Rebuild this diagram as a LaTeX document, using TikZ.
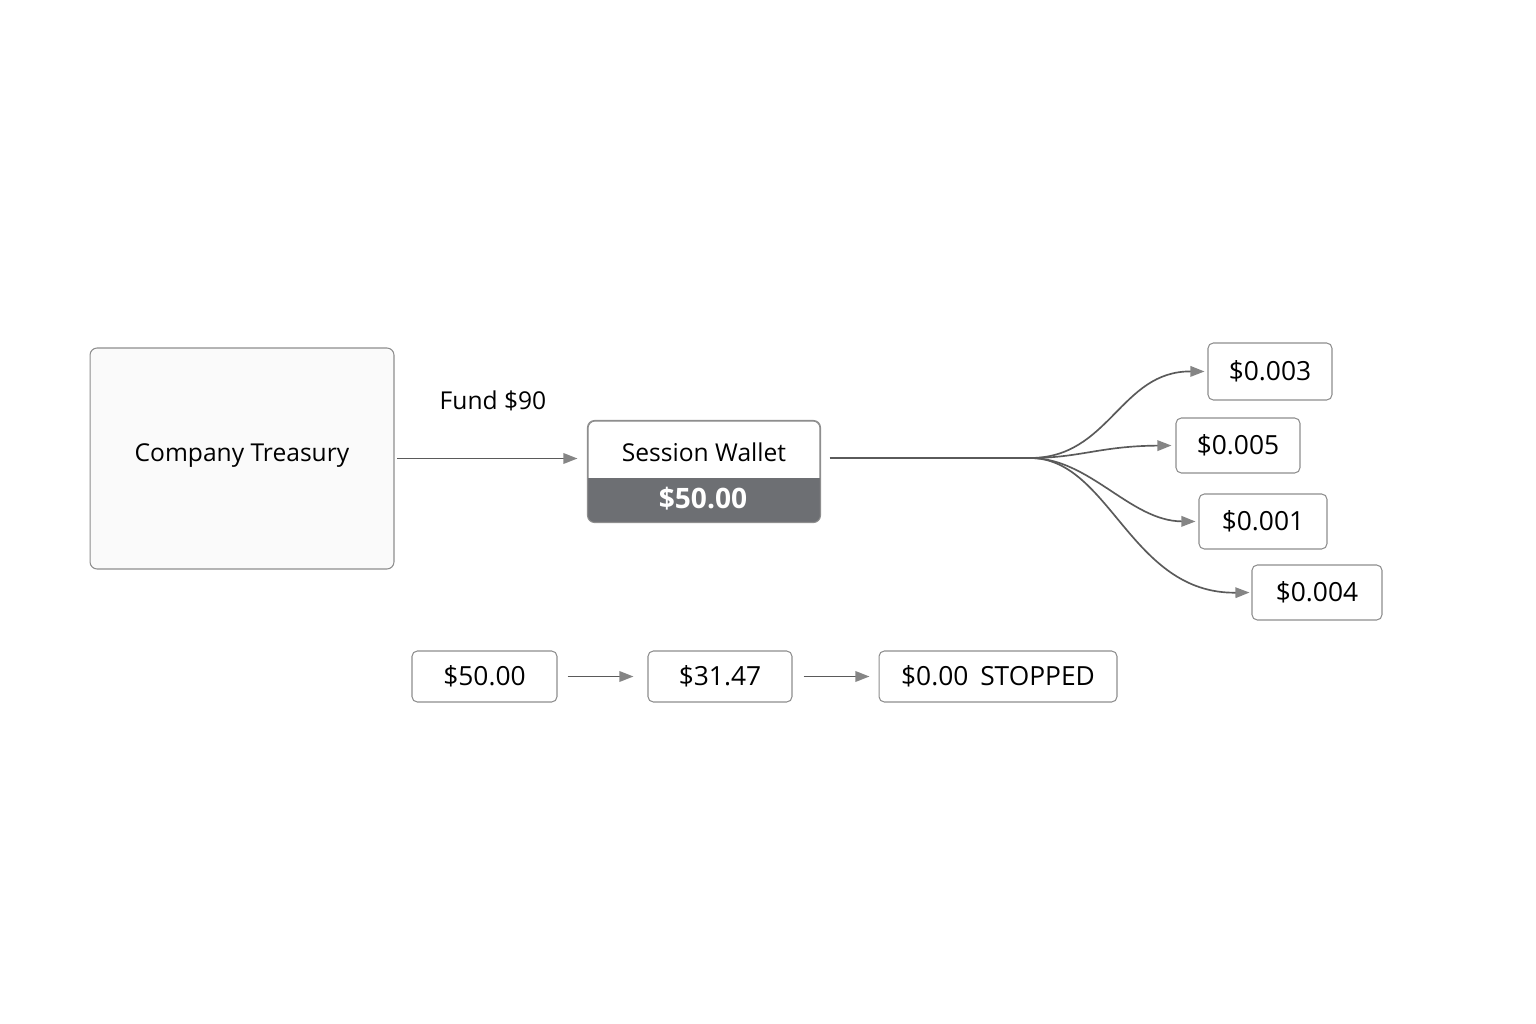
\documentclass[tikz,border=0pt]{standalone}
\usepackage{fontspec}
\setmainfont{Open Sans}
\usetikzlibrary{arrows.meta}
\definecolor{edge}{HTML}{8E8E8E}
\definecolor{wire}{HTML}{5A5A5A}
\definecolor{tipgray}{HTML}{858585}
\definecolor{slate}{HTML}{6D6F73}

\begin{document}
\begin{tikzpicture}[x=0.02cm, y=-0.02cm,
    box/.style={draw=edge, line width=0.6pt, rounded corners=3pt, fill=white, inner sep=0pt},
    val/.style={box, font=\fontsize{15}{18}\selectfont},
    lbl/.style={font=\fontsize{14}{17}\selectfont},
    flow/.style={draw=wire, line width=0.95pt, -{Triangle[length=8pt,width=6pt,color=tipgray]}}]
    \useasboundingbox (0,0) rectangle (1536,1024);

    \node[box, fill=black!2, rounded corners=4pt, minimum width=6.08cm, minimum height=4.42cm, text depth=6.8pt, lbl] (treasury) at (242,458.5) {Company Treasury};

    \node[box, rounded corners=4pt, minimum width=4.64cm, minimum height=2.02cm] (wallet) at (704,471.5) {};
    \begin{scope}
        \clip[rounded corners=4pt] (wallet.south west) rectangle (wallet.north east);
        \fill[slate] (wallet.south west) rectangle (820,478);
    \end{scope}
    \draw[edge, line width=0.6pt, rounded corners=4pt] (wallet.south west) rectangle (wallet.north east);
    \node[lbl] (wname) at (704,452) {Session Wallet};
    \node[font=\fontsize{16}{19}\selectfont\bfseries, text=white] (wbal) at (703,499) {\$50.00};

    \node[lbl] (fund) at (493,401) {Fund \$90};
    \draw[flow, shorten <=0.06cm, shorten >=0.2cm] (treasury.east) -- (treasury.east -| wallet.west);

    \node[val, minimum width=2.48cm, minimum height=1.14cm] (c1) at (1270,371.5) {\$0.003};
    \node[val, minimum width=2.48cm, minimum height=1.1cm] (c2) at (1238,445.5) {\$0.005};
    \node[val, minimum width=2.56cm, minimum height=1.1cm] (c3) at (1263,521.5) {\$0.001};
    \node[val, minimum width=2.6cm, minimum height=1.1cm] (c4) at (1317,592.5) {\$0.004};

    \coordinate (split) at (1030,458);
    \draw[wire, line width=0.95pt, shorten <=0.18cm] (wallet.east |- split) -- (split);
    \draw[flow, shorten >=0.06cm] (split) .. controls (1110,458) and (1120,371) .. (c1.west);
    \draw[flow, shorten >=0.08cm] (split) .. controls (1080,458) and (1100,446) .. (c2.west);
    \draw[flow, shorten >=0.06cm] (split) .. controls (1090,458) and (1130,521) .. (c3.west);
    \draw[flow, shorten >=0.04cm] (split) .. controls (1110,458) and (1130,594) .. (c4.west);

    \node[val, minimum width=2.9cm, minimum height=1.02cm] (s1) at (484.5,676.5) {\$50.00};
    \node[val, minimum width=2.88cm, minimum height=1.02cm] (s2) at (720,676.5) {\$31.47};
    \node[val, minimum width=4.76cm, minimum height=1.02cm] (s3) at (998,676.5) {\$0.00\hspace{0.45em}STOPPED};
    \draw[flow, shorten <=0.2cm, shorten >=0.28cm] (s1) -- (s2);
    \draw[flow, shorten <=0.22cm, shorten >=0.18cm] (s2) -- (s3);
\end{tikzpicture}
\end{document}
